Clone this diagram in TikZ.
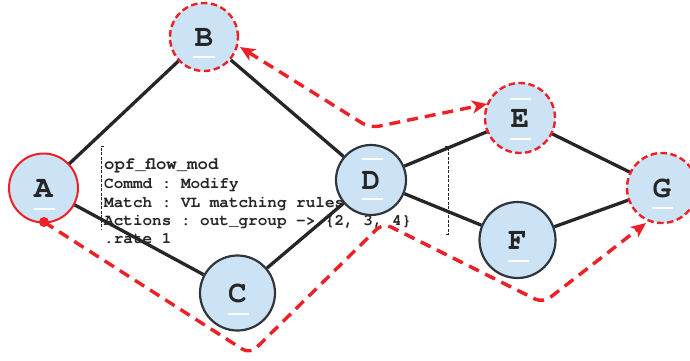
\documentclass[tikz,border=0pt]{standalone}
\usepackage{fontspec}
\setmonofont{TeX Gyre Cursor}
\usetikzlibrary{arrows.meta}
\definecolor{nfill}{HTML}{CCE3F5}
\definecolor{nedge}{HTML}{30353A}
\definecolor{rd}{HTML}{EE1F25}
\definecolor{ink}{HTML}{262626}
\tikzset{
  nd/.style={circle, fill=nfill, inner sep=0pt, line width=2.2pt, text=ink,
    font=\ttfamily\bfseries\fontsize{31}{31}\selectfont},
  solidn/.style={nd, draw=nedge},
  reds/.style={nd, draw=rd, line width=2pt},
  redd/.style={nd, draw=rd, line width=2.4pt, dash pattern=on 6.5pt off 3.5pt},
  link/.style={draw=ink, line width=3.3pt},
  uline/.style={draw=white, line width=1.6pt},
  tline/.style={anchor=base west, inner sep=0pt, text=ink,
    font=\ttfamily\bfseries\fontsize{16}{16}\selectfont},
  bracket/.style={draw=ink, line width=0.8pt, dash pattern=on 3pt off 1.5pt},
  route/.style={draw=rd, line width=3.4pt, dash pattern=on 11pt off 7pt,
    rounded corners=9pt},
  tip/.style={-{Stealth[length=15pt, width=13pt, inset=4pt]}},
  tips/.style={{Stealth[length=15pt, width=13pt, inset=4pt]}-{Stealth[length=15pt, width=13pt, inset=4pt]}},
}
\begin{document}
\begin{tikzpicture}[x=1pt,y=-1pt]
\useasboundingbox (0,0) rectangle (690,361);
% node positions
\coordinate (pA) at (43.5,188);
\coordinate (pB) at (204,37);
\coordinate (pC) at (237.5,293);
\coordinate (pD) at (371,180);
\coordinate (pE) at (520,118);
\coordinate (pF) at (517.5,240);
\coordinate (pG) at (662,188);
% text block
\node[tline, font=\ttfamily\bfseries\fontsize{17.3}{16}\selectfont] (t1) at (104,169) {opf\_flow\_mod};
\node[tline] (t2) at (104,188) {Commd : Modify};
\node[tline] (t3) at (104,207) {Match : VL matching rules};
\node[tline] (t4) at (104,225) {Actions : out\_group -> \{2, 3, 4\}};
\node[tline] (t5) at (104,243) {.rate 1};
\draw[bracket] (104,146) -- (101,146) -- (101,230);
\draw[bracket] (445,146) -- (448,146) -- (448,234) -- (445,234);
% nodes
\node[reds, minimum size=69pt] (A) at (pA) {A};
\node[redd, minimum size=68pt] (B) at (pB) {B};
\node[solidn, minimum size=75pt] (C) at (pC) {C};
\node[solidn, minimum size=70pt] (D) at (pD) {D};
\node[redd, minimum size=70pt] (E) at (pE) {E};
\node[solidn, minimum size=76pt] (F) at (pF) {F};
\node[redd, minimum size=70pt] (G) at (pG) {G};
% links
\path[link] (A) -- (B);
\path[link] (A) -- (C);
\path[link] (B) -- (D);
\path[link] (C) -- (D);
\path[link] (D) -- (E);
\path[link] (D) -- (F);
\path[link] (E) -- (G);
\path[link] (F) -- (G);
% white marks
\draw[uline] ([shift={(-10,21)}]A.center) -- ++(21,0);
\draw[uline] ([shift={(-11,20)}]B.center) -- ++(22,0);
\draw[uline] ([shift={(-10,21)}]C.center) -- ++(21,0);
\draw[uline] ([shift={(-9,-21)}]D.center) -- ++(21,0);
\draw[uline] ([shift={(-9,19)}]D.center) -- ++(21,0);
\draw[uline] ([shift={(-10,-19)}]E.center) -- ++(21,0);
\draw[uline] ([shift={(-10,21)}]E.center) -- ++(21,0);
\draw[uline] ([shift={(-10,21)}]F.center) -- ++(21,0);
\draw[uline] ([shift={(-10,20)}]G.center) -- ++(21,0);
% red routes
\coordinate (bt) at (240,47);
\coordinate (v1) at (370,128);
\coordinate (et) at (487,104);
\path[route, tips] (bt) -- (v1) -- (et);
\coordinate (s0) at (44,222);
\coordinate (w1) at (250,354);
\coordinate (w2) at (383,223);
\coordinate (w3) at (543,303);
\coordinate (gt) at (646,223);
\fill[rd] (s0) circle (5pt);
\path[route, tip] (s0) -- (w1) -- (w2) -- (w3) -- (gt);
\end{tikzpicture}
\end{document}
